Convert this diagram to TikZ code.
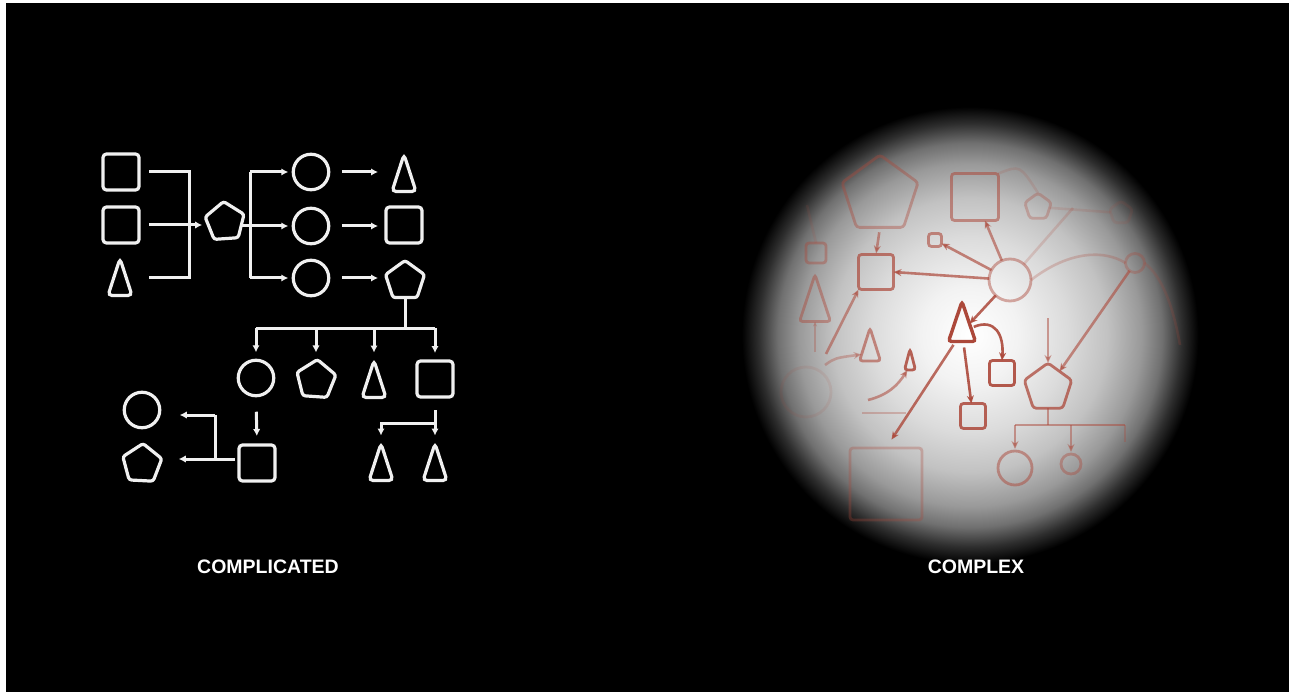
\documentclass[tikz,border=0pt]{standalone}
\usepackage{fontspec}
\setmainfont{Liberation Sans}
\usetikzlibrary{shapes.geometric,arrows.meta,calc}
\definecolor{wc}{RGB}{240,240,240}
\definecolor{rc}{RGB}{172,72,58}
\pgfdeclareradialshading{spot}{\pgfpoint{0bp}{0bp}}{color(0bp)=(white); color(5bp)=(white!95!black); color(10bp)=(white!86!black); color(14bp)=(white!76!black); color(17.5bp)=(white!60!black); color(19.6bp)=(white!44!black); color(21.6bp)=(white!18!black); color(23.3bp)=(black); color(25bp)=(black); color(50bp)=(black)}
\begin{document}
\begin{tikzpicture}[x=1pt,y=-1pt,
  wsh/.style={draw=wc, line width=3.2, inner sep=0, outer sep=0},
  wsq/.style={wsh, rectangle, rounded corners=3.5, minimum size=36},
  wci/.style={wsh, circle, minimum size=35.5},
  wpe/.style={wsh, regular polygon, regular polygon sides=5, minimum size=41, rounded corners=2.5},
  wtr/.style={wsh, isosceles triangle, isosceles triangle stretches, shape border rotate=90, minimum width=24, minimum height=37, rounded corners=4, anchor=lower side},
  wl/.style={draw=wc, line width=3},
  wa/.style={wl, -{Latex[length=7,width=7.5]}},
  rsh/.style={draw=rc, line width=2.8, inner sep=0, outer sep=0},
  rsq/.style={rsh, rectangle, rounded corners=3},
  rci/.style={rsh, circle},
  rpe/.style={rsh, regular polygon, regular polygon sides=5, rounded corners=3},
  rtr/.style={rsh, isosceles triangle, isosceles triangle stretches, shape border rotate=90, rounded corners=3, anchor=lower side},
  rl/.style={draw=rc, line width=2.6},
  ra/.style={rl, -{Stealth[length=8,width=7]}},
  lab/.style={text=white, font=\fontsize{19.5}{20}\selectfont\bfseries, inner sep=0}
]
\useasboundingbox (0,0) rectangle (1289,692);
\fill[white] (0,0) rectangle (1289,692);
\fill[black] (6,3) rectangle (1289,692);
\shade[shading=spot] (970,335) circle (245);

% ---------- left: complicated ----------
\node[wsq] (sq1) at (121,172) {};
\node[wsq] (sq2) at (121,225) {};
\node[wtr] (t1) at (120,295.5) {};
\node[wpe, shape border rotate=4] (p1) at (225,222) {};
\node[wci] (c1) at (311,172) {};
\node[wci] (c2) at (311,226) {};
\node[wci] (c3) at (311,278) {};
\node[wtr] (t2) at (404,191.5) {};
\node[wsq] (s3) at (404,225) {};
\node[wpe] (p2) at (405,281) {};
\node[wci] (c4) at (256,378) {};
\node[wpe, shape border rotate=-4] (p3) at (316,380) {};
\node[wtr] (t3) at (374,397.5) {};
\node[wsq] (s4) at (435,379) {};
\node[wsq] (s5) at (257,463) {};
\node[wci] (c5) at (142,410) {};
\node[wpe, shape border rotate=-3] (p4) at (142,464) {};
\node[wtr] (t4) at (381,480.5) {};
\node[wtr] (t5) at (435,480.5) {};

\coordinate (b1t) at (189,172); \coordinate (b1b) at (189,278);
\coordinate (b2t) at (250,172); \coordinate (b2b) at (250,278);
\coordinate (b3l) at (256,328); \coordinate (b3r) at (435,328); \coordinate (b3c) at (405,328);
\coordinate (j3t) at (215,415); \coordinate (j3b) at (215,459);
\coordinate (tee) at (435,423);

\draw[wl] ($(sq1.east)+(10,0)$) -- (b1t) -- (b1b) -- ($(b1b -| sq1.east)+(10,0)$);
\draw[wa, shorten >=5] ($(sq2.east)+(10,0)$) -- (p1.west |- sq2);
\draw[wl] (b2t) -- (b2b);
\draw[wa, shorten >=5] (p1.east |- c2) -- (c2.west);
\draw[wa, shorten >=5] (b2t) -- (c1.west);
\draw[wa, shorten >=5] (b2b) -- (c3.west);
\draw[wa, shorten <=13, shorten >=8] (c1.east) -- (c1.east -| s3.west);
\draw[wa, shorten <=13, shorten >=8] (c2.east) -- (c2.east -| s3.west);
\draw[wa, shorten <=13, shorten >=8] (c3.east) -- (c3.east -| s3.west);
\draw[wl] (p2.south) -- (b3c);
\draw[wl] (b3l) -- (b3r);
\draw[wa, shorten >=8] (b3l) -- (c4.north);
\draw[wa, shorten >=8] (p3 |- b3l) -- (p3.north);
\draw[wa, shorten >=8] (t3.apex |- b3l) -- (t3.apex);
\draw[wa, shorten >=8] (b3r) -- (s4.north);
\draw[wa, shorten <=16, shorten >=9] (c4.south) -- (s5.north);
\draw[wl] ($(s5.west)+(-4,-4)$) -- (j3b) -- (j3t);
\draw[wa, shorten >=20] (j3t) -- (j3t -| c5.east);
\draw[wa, shorten >=19] (j3b) -- (j3b -| p4.east);
\draw[wa, shorten <=13, shorten >=8] (s4.south) -- (t5.apex);
\draw[wa, shorten >=8] (tee) -| (t4.apex);

% ---------- right: complex ----------
\node[rpe, minimum size=80, opacity=0.4] (PB) at (880,195) {};
\node[rsq, minimum size=35, opacity=0.7] (SA) at (876,272) {};
\node[rsq, minimum size=13, opacity=0.6] (SB) at (935,240) {};
\node[rsq, minimum size=47, opacity=0.55] (SC) at (975,197) {};
\node[rsq, minimum size=20, opacity=0.4] (SD) at (816,253) {};
\node[rtr, minimum width=31, minimum height=47, opacity=0.45] (TE) at (815,321.5) {};
\node[rci, minimum size=42, opacity=0.45] (CF) at (1010,280) {};
\node[rpe, minimum size=28, opacity=0.3] (PG) at (1038,207) {};
\node[rpe, minimum size=24, opacity=0.12] (HX) at (1121,213) {};
\node[rci, minimum size=19, opacity=0.3] (CH) at (1135,263) {};
\node[rtr, minimum width=27, minimum height=40, line width=3.4] (TB) at (962,341.5) {};
\node[rsq, minimum size=25, opacity=0.9] (SJ) at (1002,373) {};
\node[rsq, minimum size=25, opacity=0.85] (SK) at (973,416) {};
\node[rtr, minimum width=11, minimum height=21, opacity=0.85] (TL) at (910,370) {};
\node[rtr, minimum width=21, minimum height=33, opacity=0.6] (TM) at (870,361) {};
\node[rsq, minimum size=72, opacity=0.3] (SN) at (886,484) {};
\node[rpe, minimum size=50, opacity=0.75] (PI) at (1048,388) {};
\node[rci, minimum size=34, opacity=0.5] (CO) at (1015,468) {};
\node[rci, minimum size=20, opacity=0.4] (CP) at (1071,464) {};
\node[rci, minimum size=50, opacity=0.1] (CQ) at (806,392) {};

\coordinate (jx) at (1073,208);
\coordinate (a11) at (868,400);
\coordinate (a12) at (825,365);
\coordinate (a13) at (862,413); \coordinate (m13) at (906,413);
\coordinate (a14) at (815,352);
\coordinate (a15) at (826,354);
\coordinate (a16) at (807,205);
\coordinate (a19) at (1180,345);
\coordinate (a20) at (1048,318);
\coordinate (b4c) at (1048,425); \coordinate (b4l) at (1015,425);
\coordinate (b4r) at (1125,425); \coordinate (b4e) at (1125,442);

\draw[ra, opacity=0.55, shorten <=5, shorten >=1] (PB.south) -- (SA.north);
\draw[ra, opacity=0.7] (CF) -- (SA.east);
\draw[ra, opacity=0.65] (CF) -- (SB);
\draw[ra, opacity=0.6] (CF) -- (SC);
\draw[rl, opacity=0.2] (CF) -- (jx);
\draw[rl, opacity=0.15] (PG) -- (HX);
\draw[rl, opacity=0.15] (SC.north east) .. controls (1020,165) .. (PG.north);
\draw[ra, opacity=0.85] (CF) -- (TB);
\draw[ra, opacity=0.9, shorten <=3] (TB) .. controls (995,318) and (1004,335) .. (SJ.north);
\draw[ra, opacity=0.9, shorten <=6] (TB) -- (SK);
\draw[ra, opacity=0.8, shorten <=4, shorten >=10] (TB) -- (SN.north);
\draw[ra, opacity=0.55] (a11) .. controls (888,395) and (898,385) .. (TL);
\draw[ra, opacity=0.35] (a12) .. controls (835,358) .. (TM);
\draw[rl, opacity=0.3] (a13) -- (m13);
\draw[rl, line width=1.5, opacity=0.3, -{Stealth[length=5,width=4]}] (a14) -- (TE);
\draw[ra, opacity=0.55] (a15) -- (SA.south west);
\draw[rl, opacity=0.12] (a16) -- (SD.north);
\draw[rl, opacity=0.25] (CF.east) .. controls (1070,250) and (1105,250) .. (CH.west);
\draw[ra, opacity=0.6] (CH) -- (PI);
\draw[rl, opacity=0.2] (CH.east) .. controls (1160,275) and (1172,300) .. (a19);
\draw[ra, opacity=0.5] (a20) -- (PI.north);
\draw[rl, opacity=0.5] (PI.south) -- (b4c);
\draw[rl, opacity=0.5] (b4l) -- (b4r);
\draw[rl, opacity=0.3] (b4r) -- (b4e);
\draw[ra, opacity=0.5, shorten >=2] (b4l) -- (CO.north);
\draw[ra, opacity=0.45, shorten >=2] (CP |- b4l) -- (CP.north);

\node[lab] (l1) at (268,567) {COMPLICATED};
\node[lab] (l2) at (976,567) {COMPLEX};
\end{tikzpicture}
\end{document}
